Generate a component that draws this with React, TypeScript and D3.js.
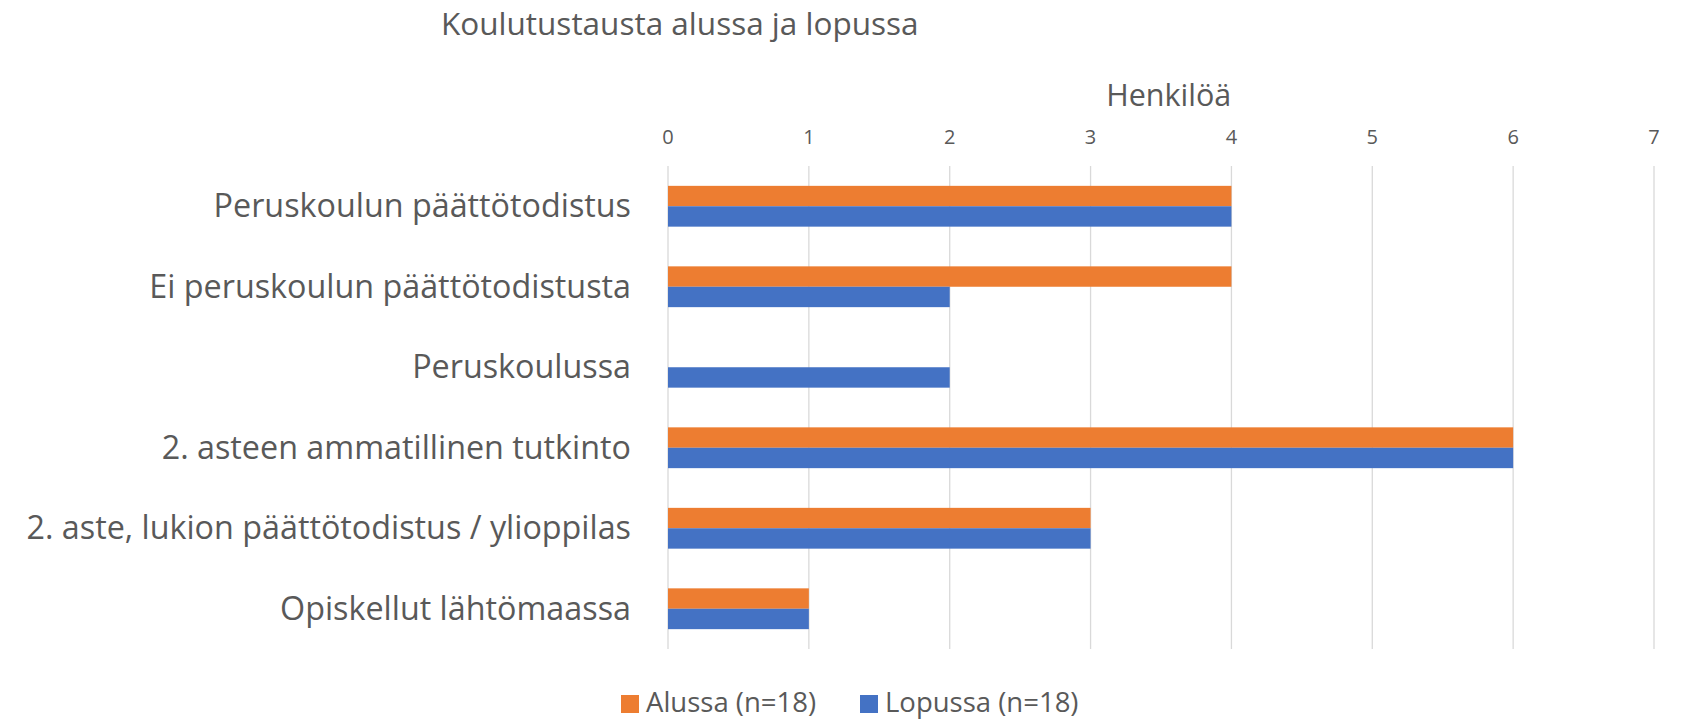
import React, { useEffect } from "react";
import * as d3 from "d3";

const title = "Koulutustausta alussa ja lopussa";
const axisTitle = "Henkilöä";
const categories = [
  "Peruskoulun päättötodistus",
  "Ei peruskoulun päättötodistusta",
  "Peruskoulussa",
  "2. asteen ammatillinen tutkinto",
  "2. aste, lukion päättötodistus / ylioppilas",
  "Opiskellut lähtömaassa",
];
const seriesNames = ["Alussa (n=18)", "Lopussa (n=18)"];
const alussa = [4, 4, 0, 6, 3, 1];
const lopussa = [4, 2, 2, 6, 3, 1];
const xTicks = [0, 1, 2, 3, 4, 5, 6, 7];
const colors = ["#ED7D31", "#4472C4"];

const W = 1681;
const H = 721;
const FONT = "'Open Sans', sans-serif";
const TEXT = "#595959";

export default function App() {
  useEffect(() => {
    document.body.style.margin = "0";
  }, []);

  const x = d3.scaleLinear().domain([0, 7]).range([668, 1654]);
  const y = d3.scaleBand<string>().domain(categories).range([166, 649]);
  const sub = d3
    .scaleBand<string>()
    .domain(seriesNames)
    .range([0, y.bandwidth()])
    .paddingInner(0)
    .paddingOuter(0.973);
  const series = [alussa, lopussa];

  return (
    <svg width={W} height={H} style={{ display: "block", background: "#fff" }} fontFamily={FONT}>
      <text x={441} y={35} fontSize={31.5} fill={TEXT}>
        {title}
      </text>
      <text x={x(3.555)} y={106} fontSize={30.5} fill={TEXT} textAnchor="middle">
        {axisTitle}
      </text>
      {xTicks.map((t) => (
        <g key={t}>
          <line x1={x(t)} x2={x(t)} y1={166} y2={649} stroke="#D9D9D9" strokeWidth={1.3} />
          <text x={x(t)} y={144} fontSize={20} fill={TEXT} textAnchor="middle">
            {t}
          </text>
        </g>
      ))}
      {categories.map((c, i) => (
        <g key={c}>
          {series.map((vals, s) =>
            vals[i] > 0 ? (
              <rect
                key={s}
                x={x(0)}
                y={(y(c) as number) + (sub(seriesNames[s]) as number)}
                width={x(vals[i]) - x(0)}
                height={sub.bandwidth()}
                fill={colors[s]}
              />
            ) : null
          )}
          <text
            x={631}
            y={(y(c) as number) + y.bandwidth() / 2 + 11}
            fontSize={32.3}
            fill={TEXT}
            textAnchor="end"
          >
            {c}
          </text>
        </g>
      ))}
      {seriesNames.map((n, s) => {
        const lx = [621, 860][s];
        return (
          <g key={n}>
            <rect x={lx} y={695} width={18} height={18} fill={colors[s]} />
            <text x={lx + 25} y={712} fontSize={27.5} fill={TEXT}>
              {n}
            </text>
          </g>
        );
      })}
    </svg>
  );
}
